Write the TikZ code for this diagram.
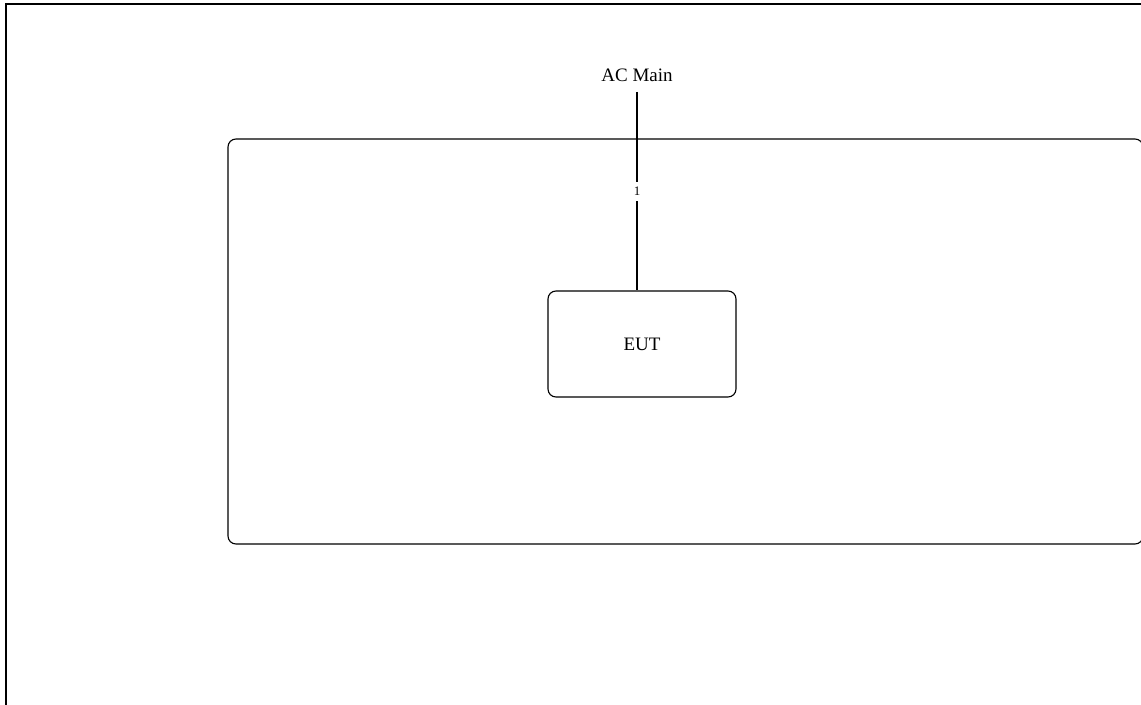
\documentclass[tikz,border=0pt]{standalone}
\usepackage{fontspec}
\setmainfont{Liberation Serif}
\begin{document}
\begin{tikzpicture}[x=0.5pt,y=-0.5pt,
  frameline/.style={line width=1pt,black},
  boxline/.style={draw,line width=0.55pt,rounded corners=4pt},
  lbl/.style={font=\fontsize{9.5}{11}\selectfont},
  numlbl/.style={font=\fontsize{6.5}{7}\selectfont,fill=white,inner xsep=1pt,inner ysep=2.5pt}]
\useasboundingbox (0,0) rectangle (1141,705);
\clip (0,0) rectangle (1141,705);
\draw[frameline] (6,710) -- (6,4) -- (1150,4);
\draw[boxline] (228,139) rectangle (1143,544);
\node[boxline,minimum width=94pt,minimum height=53pt,lbl] (eut) at (642,344) {EUT};
\node[lbl] (acmain) at (637,75) {AC Main};
\coordinate (acend) at (637,92);
\draw[line width=0.55pt] (acend) -- node[numlbl,pos=0.5] {1} (acend |- eut.north);
\end{tikzpicture}
\end{document}
